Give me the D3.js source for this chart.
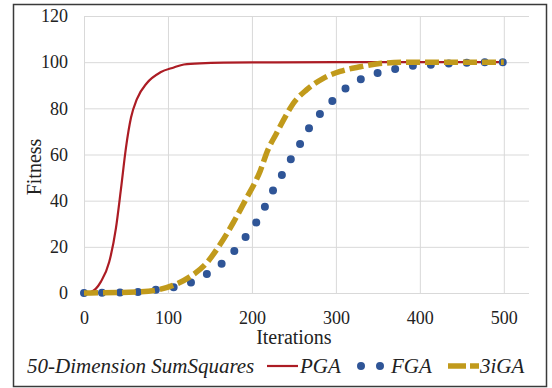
<!DOCTYPE html>
<html>
<head>
<meta charset="utf-8">
<script src="https://cdn.jsdelivr.net/npm/d3@7"></script>
<style>
  html, body { margin: 0; padding: 0; background: #fff; }
  svg text { font-family: "Times New Roman", "Liberation Serif", "DejaVu Serif", serif; }
</style>
</head>
<body>
<div id="chart"></div>
<script>
// Values (iteration, fitness)
const pgaIter = [0, 8, 20, 30, 38, 44, 50, 56, 63, 75, 91, 107, 119, 138, 200, 300, 400, 500]
const pgaFit  = [0, 0.4, 4.8, 13.4, 28, 45, 63, 76, 84, 91, 95.6, 97.7, 99, 99.5, 99.9, 100, 100, 100]

const fgaIter = [0, 67, 87, 108, 129, 148, 165, 181, 194, 206, 217, 226, 237, 248, 258, 269, 282, 298, 313, 332, 352, 374, 395, 417, 438, 460, 481, 500]
const fgaFit  = [0, 0.5, 1.5, 2.6, 4.8, 8.6, 13, 19, 25, 31, 38.5, 45, 52, 59, 65, 72, 78, 84, 89, 93, 95.6, 97.3, 98.6, 99, 99.5, 99.8, 100, 100]

const igaIter = [0, 67, 87, 106, 126, 146, 162, 177, 192, 210, 219, 229, 240, 249, 265, 285, 305, 329, 352, 387, 450, 500]
const igaFit  = [0, 0.5, 1.3, 3.3, 7, 13, 21, 30, 40, 53, 62, 69, 76.5, 82, 88, 93, 96, 98, 99.4, 100, 100, 100]

const xTicks = [0, 100, 200, 300, 400, 500]
const yTicks = [0, 20, 40, 60, 80, 100, 120]
const legendTitle = "50-Dimension SumSquares"
const seriesNames = ["PGA", "FGA", "3iGA"]

const W = 552, H = 388
const plotLeft = 84, plotRight = 529, plotTop = 16, plotBottom = 293

const red = "#ac1c24", blue = "#2f5597", gold = "#c19a1b"

const svg = d3.select("#chart").append("svg")
  .attr("width", W)
  .attr("height", H)
  .style("display", "block")

// outer frame
svg.append("rect")
  .attr("x", 13.5).attr("y", 4.5)
  .attr("width", 533).attr("height", 382)
  .attr("fill", "#fff")
  .attr("stroke", "#3a3a3a")
  .attr("stroke-width", 1.5)

const x = d3.scaleLinear().domain([0, 530]).range([plotLeft, plotRight])
const y = d3.scaleLinear().domain([0, 120]).range([plotBottom, plotTop])

// axes + gridlines
const yAxis = svg.append("g")
  .attr("transform", `translate(${plotLeft},0)`)
  .call(d3.axisLeft(y).tickValues(yTicks).tickSize(-(plotRight - plotLeft)).tickPadding(16))
const xAxis = svg.append("g")
  .attr("transform", `translate(0,${plotBottom})`)
  .call(d3.axisBottom(x).tickValues(xTicks).tickSize(-(plotBottom - plotTop)).tickPadding(0))

for (const ax of [xAxis, yAxis]) {
  ax.attr("font-family", null).attr("font-size", null)
  ax.select(".domain").remove()
  ax.selectAll(".tick line").attr("stroke", "#d9d9d9").attr("stroke-width", 1)
  ax.selectAll(".tick text")
    .attr("fill", "#222")
    .style("font-size", "18px")
}
xAxis.selectAll(".tick text").attr("y", 31).attr("dy", null)

// axis titles
svg.append("text")
  .attr("x", (x(0) + x(500)) / 2)
  .attr("y", 344)
  .attr("text-anchor", "middle")
  .attr("fill", "#222")
  .style("font-size", "20px")
  .text("Iterations")

svg.append("text")
  .attr("transform", "translate(41,167) rotate(-90)")
  .attr("text-anchor", "middle")
  .attr("fill", "#222")
  .style("font-size", "20px")
  .text("Fitness")

// lines
const line = d3.line()
  .x(d => x(d[0]))
  .y(d => y(d[1]))
  .curve(d3.curveMonotoneX)

svg.append("path")
  .datum(d3.zip(pgaIter, pgaFit))
  .attr("d", line)
  .attr("fill", "none")
  .attr("stroke", red)
  .attr("stroke-width", 2.2)

// round-dot style: zero-length dashes with round caps
svg.append("path")
  .datum(d3.zip(fgaIter, fgaFit))
  .attr("d", line)
  .attr("fill", "none")
  .attr("stroke", blue)
  .attr("stroke-width", 8)
  .attr("stroke-linecap", "round")
  .attr("stroke-dasharray", "0 18")

svg.append("path")
  .datum(d3.zip(igaIter, igaFit))
  .attr("d", line)
  .attr("fill", "none")
  .attr("stroke", gold)
  .attr("stroke-width", 5.5)
  .attr("stroke-dasharray", "14 5")

// legend
const ly = 366, lb = 373
const legend = svg.append("g").style("font-size", "21px").style("font-style", "italic").attr("fill", "#222")

legend.append("text").attr("x", 27).attr("y", lb).text(legendTitle)

legend.append("line")
  .attr("x1", 267).attr("x2", 298).attr("y1", ly).attr("y2", ly)
  .attr("stroke", red).attr("stroke-width", 2.2)
legend.append("text").attr("x", 300).attr("y", lb).text(seriesNames[0])

legend.append("line")
  .attr("x1", 361).attr("x2", 385).attr("y1", ly).attr("y2", ly)
  .attr("stroke", blue).attr("stroke-width", 8)
  .attr("stroke-linecap", "round").attr("stroke-dasharray", "0 19")
legend.append("text").attr("x", 391).attr("y", lb).text(seriesNames[1])

legend.append("line")
  .attr("x1", 448).attr("x2", 479).attr("y1", ly).attr("y2", ly)
  .attr("stroke", gold).attr("stroke-width", 5.5)
  .attr("stroke-dasharray", "18 4")
legend.append("text").attr("x", 480).attr("y", lb).text(seriesNames[2])
</script>
</body>
</html>
